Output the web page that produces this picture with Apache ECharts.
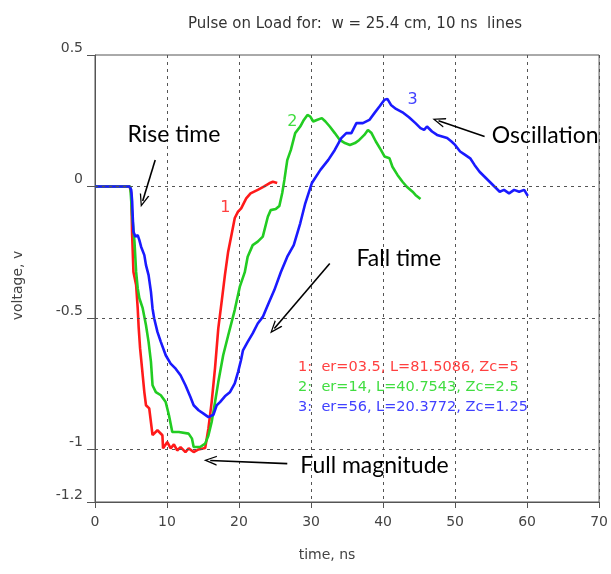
<!DOCTYPE html>
<html><head><meta charset="utf-8">
<script src="https://cdn.jsdelivr.net/npm/echarts@6/dist/echarts.min.js"></script>
<style>html,body{margin:0;padding:0;background:#fff}#c{width:611px;height:574px}</style>
</head><body><div id="c"></div>
<script>
// ---- data ----
var time1 = [0,4.8,5.03,5.16,5.34,5.71,5.93,6.07,6.26,6.53,6.85,7.08,7.53,7.99,8.67,9.36,9.45,10.04,10.51,10.96,11.41,11.88,12.56,13.01,13.7,14.38,15.3,15.75,16.2,16.67,17.12,17.58,18.04,18.49,18.95,19.41,19.86,20.3,21.0,21.6,22.6,23.5,24.2,24.7,25.3];
var volt1 = [0,0,-0.025,-0.185,-0.325,-0.375,-0.463,-0.539,-0.615,-0.691,-0.782,-0.832,-0.844,-0.946,-0.927,-0.946,-0.996,-0.972,-0.996,-0.981,-1.004,-0.991,-1.01,-0.996,-1.01,-1.0,-0.995,-0.92,-0.82,-0.69,-0.54,-0.44,-0.337,-0.248,-0.185,-0.12,-0.096,-0.083,-0.045,-0.026,-0.013,0.0,0.012,0.018,0.013];
var time2 = [0,4.9,5.03,5.16,5.48,5.71,5.93,6.16,6.62,7.08,7.44,7.77,7.99,8.45,9.14,9.82,10.27,10.73,11.64,13.0,13.47,13.7,14.6,15.3,15.75,16.2,16.67,17.12,17.8,18.5,19.4,20.1,20.8,21.2,21.9,22.6,23.3,24.0,24.4,25.1,25.6,26.0,26.3,26.5,26.7,27.2,27.8,28.5,29.0,29.5,29.9,30.3,30.8,31.5,32.0,32.6,33.3,34.0,34.7,35.4,36.1,36.7,37.4,37.9,38.4,39.0,39.7,40.2,40.9,41.3,42.0,42.7,43.3,44.1,44.5,45.2];
var volt2 = [0,0,0,-0.109,-0.21,-0.325,-0.387,-0.425,-0.463,-0.528,-0.591,-0.667,-0.756,-0.782,-0.794,-0.82,-0.87,-0.934,-0.934,-0.94,-0.959,-0.991,-0.991,-0.978,-0.947,-0.896,-0.82,-0.744,-0.642,-0.566,-0.47,-0.382,-0.326,-0.267,-0.223,-0.21,-0.191,-0.115,-0.09,-0.086,-0.074,-0.025,0.025,0.063,0.10,0.139,0.203,0.228,0.253,0.272,0.266,0.247,0.253,0.26,0.247,0.228,0.203,0.177,0.165,0.158,0.165,0.177,0.196,0.215,0.203,0.171,0.139,0.114,0.107,0.075,0.044,0.018,-0.001,-0.02,-0.032,-0.048];
var time3 = [0,4.8,5.03,5.16,5.25,5.34,5.62,5.93,6.16,6.4,6.85,7.08,7.44,7.77,7.99,8.22,8.67,9.14,9.82,10.5,11.2,11.88,12.56,13.25,13.7,14.38,15.07,15.75,16.44,16.9,17.36,18.04,18.72,19.41,19.86,20.27,20.55,21.2,21.9,22.6,23.3,24.0,24.9,25.8,26.7,27.6,28.5,29.2,30.1,31.3,32.4,33.3,34.2,34.9,35.6,36.3,37.2,38.1,38.8,39.5,40.2,40.6,41.1,41.8,42.7,43.6,44.5,45.2,45.7,46.1,46.8,47.5,48.2,48.9,49.5,50.0,50.7,51.4,52.1,52.7,53.4,54.1,54.8,55.5,56.2,56.8,57.5,58.2,58.9,59.6,60.1];
var volt3 = [0,0,-0.013,-0.058,-0.121,-0.172,-0.191,-0.185,-0.204,-0.229,-0.261,-0.299,-0.337,-0.401,-0.464,-0.502,-0.553,-0.591,-0.642,-0.674,-0.693,-0.718,-0.756,-0.801,-0.832,-0.851,-0.864,-0.877,-0.868,-0.832,-0.82,-0.798,-0.783,-0.749,-0.706,-0.661,-0.623,-0.591,-0.559,-0.521,-0.496,-0.451,-0.394,-0.326,-0.267,-0.223,-0.14,-0.064,0.012,0.063,0.101,0.139,0.184,0.203,0.203,0.241,0.241,0.253,0.279,0.304,0.33,0.333,0.31,0.295,0.282,0.263,0.241,0.222,0.215,0.228,0.209,0.196,0.19,0.184,0.171,0.158,0.133,0.12,0.107,0.082,0.056,0.037,0.018,-0.001,-0.02,-0.013,-0.026,-0.013,-0.02,-0.013,-0.036];
var xTicks = [0,10,20,30,40,50,60,70];
var yTicks = [0.5,0,-0.5,-1,-1.2];
var yGrid = [0,-0.5,-1];
var legendLines = ['1:  er=03.5, L=81.5086, Zc=5','2:  er=14, L=40.7543, Zc=2.5','3:  er=56, L=20.3772, Zc=1.25'];
var seriesColors = ['#ff1a1a','#22cc22','#1a1aff'];
var labelColors = ['#ff4040','#40dd40','#4040ff'];

function pairs(t,v){var o=[];for(var i=0;i<t.length;i++)o.push([t[i],v[i]]);return o;}

var chart = echarts.init(document.getElementById('c'), null, {renderer:'canvas'});
var axisFont = {fontFamily:'DejaVu Sans', fontSize:14, color:'#444'};
var chev = 'path://M5,0 L10,10 L8.6,10 L5,2.6 L1.4,10 L0,10 Z';

var option = {
  animation:false,
  backgroundColor:'#fff',
  title:{text:'Pulse on Load for:  w = 25.4 cm, 10 ns  lines', left:183, top:12,
    textStyle:{fontFamily:'DejaVu Sans', fontSize:15, fontWeight:'normal', color:'#333'}},
  grid:{left:95, right:5, top:55, bottom:72, show:true, borderColor:'#555', borderWidth:1},
  xAxis:{type:'value', min:0, max:70, interval:10,
    name:'time, ns', nameLocation:'middle', nameGap:46,
    nameTextStyle:{fontFamily:'DejaVu Sans', fontSize:14, color:'#444', padding:[0,40,0,0]},
    axisLine:{onZero:false, lineStyle:{color:'#555'}},
    axisTick:{show:true, length:6, lineStyle:{color:'#555'}},
    axisLabel:Object.assign({margin:13, showMaxLabel:true, showMinLabel:true}, axisFont),
    splitLine:{show:true, lineStyle:{color:'#555', type:[3,4], width:1}}},
  yAxis:{type:'value', min:-1.2, max:0.5,
    name:'voltage, v', nameLocation:'middle', nameGap:70, nameRotate:90,
    nameTextStyle:{fontFamily:'DejaVu Sans', fontSize:14, color:'#444', padding:[0,14,0,0]},
    axisLine:{show:true, onZero:false, lineStyle:{color:'#555'}},
    axisTick:{show:true, length:8, customValues:yTicks, lineStyle:{color:'#555'}},
    axisLabel:Object.assign({customValues:yTicks, margin:12, verticalAlign:'bottom', lineHeight:14}, axisFont),
    splitLine:{show:false}},
  series:[
    {type:'line', name:'grid', data:[], z:1, silent:true,
     markLine:{silent:true, symbol:['none','none'], label:{show:false},
       lineStyle:{color:'#555', type:[3,4], width:1},
       data: yGrid.map(function(v){return {yAxis:v};})}},
    {type:'line', name:'1', data:pairs(time1,volt1), showSymbol:false, z:3, lineStyle:{color:seriesColors[0], width:2.6}, itemStyle:{color:seriesColors[0]}},
    {type:'line', name:'2', data:pairs(time2,volt2), showSymbol:false, z:3, lineStyle:{color:seriesColors[1], width:2.6}, itemStyle:{color:seriesColors[1]}},
    {type:'line', name:'3', data:pairs(time3,volt3), showSymbol:false, z:4, lineStyle:{color:seriesColors[2], width:2.6}, itemStyle:{color:seriesColors[2]}},
    {type:'line', name:'arrows', data:[], z:5, silent:true,
     markLine:{silent:true, symbol:['none', chev], symbolSize:[10,13], label:{show:false},
       lineStyle:{color:'#000', type:'solid', width:1.6},
       itemStyle:{color:'#000'},
       data:[
         [{coord:[8.36,0.101]},{coord:[6.62,-0.055]}],
         [{coord:[32.6,-0.293]},{coord:[24.9,-0.54]}],
         [{coord:[54.1,0.19]},{coord:[47.7,0.25]}],
         [{coord:[26.7,-1.054]},{coord:[16.0,-1.042]}]
       ]}}
  ]
};
chart.setOption(option);

// annotations anchored in data coordinates
var annoText = [
  {t:4.5, v:0.196, text:'Rise time'},
  {t:36.3, v:-0.276, text:'Fall time'},
  {t:55.1, v:0.192, text:'Oscillation'},
  {t:28.5, v:-1.06, text:'Full magnitude'}
];
var curveTags = [
  {t:18.1, v:-0.083, text:'1', c:labelColors[0]},
  {t:27.4, v:0.247, text:'2', c:labelColors[1]},
  {t:44.1, v:0.33, text:'3', c:labelColors[2]}
];
var legendPos = {t:28.2, v:-0.686, dv:-0.0762};
var g = [];
annoText.forEach(function(a){
  var p = chart.convertToPixel({gridIndex:0},[a.t,a.v]);
  g.push({type:'text', x:p[0], y:p[1], z:10, style:{text:a.text, fontFamily:'Lato', fontSize:23, fill:'#000', verticalAlign:'middle', align:'left'}});
});
curveTags.forEach(function(a){
  var p = chart.convertToPixel({gridIndex:0},[a.t,a.v]);
  g.push({type:'text', x:p[0], y:p[1], z:10, style:{text:a.text, fontFamily:'DejaVu Sans', fontSize:16, fill:a.c, verticalAlign:'middle', align:'center'}});
});
legendLines.forEach(function(s,i){
  var p = chart.convertToPixel({gridIndex:0},[legendPos.t, legendPos.v + i*legendPos.dv]);
  g.push({type:'text', x:p[0], y:p[1], z:10, style:{text:s, fontFamily:'DejaVu Sans', fontSize:14.5, fill:labelColors[i], verticalAlign:'middle', align:'left'}});
});
chart.setOption({graphic:g});
</script></body></html>
